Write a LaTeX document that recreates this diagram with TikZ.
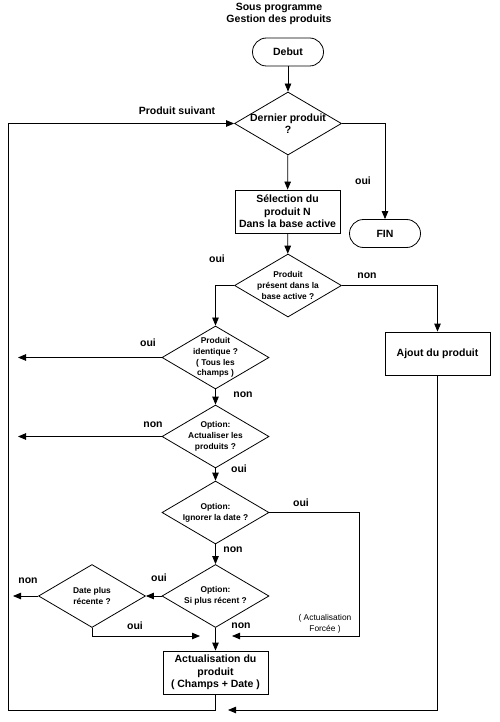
\documentclass[tikz,border=0pt]{standalone}
\usepackage{fontspec}
\setmainfont{Liberation Sans}
\usetikzlibrary{shapes.geometric, arrows.meta}

\newcommand{\taillegrande}{\fontsize{10.5}{12.5}\selectfont}
\newcommand{\taillepetite}{\fontsize{8.4}{10.8}\selectfont}

\tikzset{
  boite/.style={draw, rectangle, minimum width=105pt, minimum height=43pt, inner sep=2pt, align=center},
  terminal/.style={draw, rectangle, rounded corners=14pt, minimum width=71pt, minimum height=28pt},
  losange/.style={draw, diamond, aspect=1.7, inner sep=-6pt, minimum width=107pt, minimum height=63pt,
    align=center, font=\bfseries\taillepetite},
  etiq/.style={inner sep=0pt},
}

\begin{document}
\begin{tikzpicture}[x=1pt, y=-1pt, font=\bfseries\taillegrande, >={Triangle[length=8pt, width=6.5pt]}, line width=0.8pt]
  \useasboundingbox (0,0) rectangle (499,722);

  % titre
  \node[align=center] (titre) at (279,14) {Sous programme\\Gestion des produits};

  % colonne principale
  \node[terminal] (debut) at (288,52) {Debut};
  \node[losange, font=\bfseries\taillegrande] (dernier) at (288,123.5) {Dernier produit\\?};
  \node[terminal] (fin) at (385,233.5) {FIN};
  \node[boite] (selection) at (287.5,211.5) {Sélection du\\produit N\\Dans la base active};
  \node[losange] (present) at (288,285.5) {Produit\\présent dans la\\base active ?};
  \node[boite] (ajout) at (437.5,353.5) {Ajout du produit};

  % mise a jour
  \node[losange] (identique) at (215.5,357.5) {Produit\\identique ?\\( Tous les\\champs )};
  \node[losange] (actualiser) at (215.5,436.5) {Option:\\Actualiser les\\produits ?};
  \node[losange] (ignorer) at (215.5,512.5) {Option:\\Ignorer la date ?};
  \node[losange] (recent) at (215.5,596) {Option:\\Si plus récent ?};
  \node[losange] (dateplus) at (92,596) {Date plus\\récente ?};
  \node[boite] (maj) at (215.5,672.5) {Actualisation du\\produit\\( Champs + Date )};

  % sorties et retours
  \coordinate (idout) at (18,357.5);
  \coordinate (actout) at (18,436.5);
  \coordinate (dateout) at (13,596);
  \coordinate (force) at (232,636);
  \coordinate (datein) at (200,636);
  \coordinate (retour) at (228,710);
  \coordinate (boucle) at (8,710);

  \draw[->] (debut) -- (dernier);
  \draw[->] (dernier) -- (selection);
  \draw[->] (dernier.east) -| (fin);
  \draw[->] (selection) -- (present);
  \draw[->] (present.west) -| (identique);
  \draw[->] (present.east) -| (ajout);
  \draw[->] (identique) -- (actualiser);
  \draw[->] (identique.west) -- (idout);
  \draw[->] (actualiser) -- (ignorer);
  \draw[->] (actualiser.west) -- (actout);
  \draw[->] (ignorer) -- (recent);
  \draw[->] (ignorer.east) -- ++(90,0) |- (force);
  \draw[->] (recent) -- (dateplus);
  \draw[->] (recent) -- (maj);
  \draw[->] (dateplus.west) -- (dateout);
  \draw[->] (dateplus.south) |- (datein);
  \draw[->] (ajout.south) |- (retour);
  \draw[->] (maj.south) |- (boucle) |- (dernier.west);

  % etiquettes
  \node[etiq] (l-suivant) at (177,111) {Produit suivant};
  \node[etiq] (l-fin) at (363,181) {oui};
  \node[etiq] (l-present-oui) at (217,259) {oui};
  \node[etiq] (l-present-non) at (367,276) {non};
  \node[etiq] (l-ident-oui) at (148,343) {oui};
  \node[etiq] (l-ident-non) at (243,395) {non};
  \node[etiq] (l-actu-non) at (153,425) {non};
  \node[etiq] (l-actu-oui) at (239,469) {oui};
  \node[etiq] (l-ign-oui) at (301,503) {oui};
  \node[etiq] (l-ign-non) at (233,550) {non};
  \node[etiq] (l-rec-oui) at (159,578) {oui};
  \node[etiq] (l-date-non) at (28,581) {non};
  \node[etiq] (l-date-oui) at (135,626) {oui};
  \node[etiq] (l-rec-non) at (241,626) {non};
  \node[etiq, align=center, font=\mdseries\taillepetite] (l-forcee) at (325,624) {( Actualisation\\Forcée )};
\end{tikzpicture}
\end{document}
